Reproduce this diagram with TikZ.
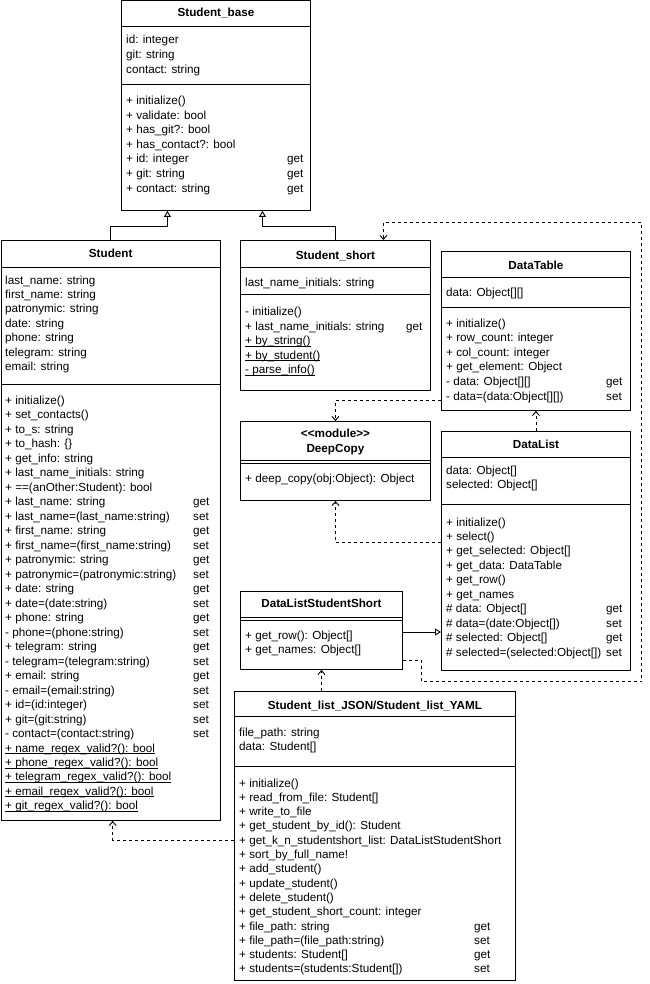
\documentclass[tikz,border=0pt]{standalone}
\usepackage{fontspec}
\setmainfont{Liberation Sans}
\usetikzlibrary{arrows.meta,calc}
\tikzset{
 box/.style={draw, line width=0.9pt, anchor=north west, inner sep=0pt, fill=white},
 txt/.style={anchor=base west, inner sep=0pt, font=\fontsize{11.7}{13}\selectfont},
 ttl/.style={anchor=base, inner sep=0pt, font=\fontsize{11.7}{13}\selectfont\bfseries},
 sep/.style={line width=0.9pt},
 inh/.style={line width=0.9pt, -{Triangle[open, length=6pt, width=7pt]}},
 dep/.style={line width=0.9pt, dash pattern=on 3pt off 3pt, -{Straight Barb[length=4pt,width=7pt]}},
}
\newcommand\umltext[5]{%
 \foreach \t [count=\i from 0] in {#5} {\node[txt] (#1\i) at (#2, #3+#4*\i) {\t};}}
\newcommand\ul[1]{\setbox0\hbox{#1}\rlap{\rule[-1.7pt]{\wd0}{0.7pt}}\box0}
\begin{document}
\begin{tikzpicture}[x=1pt, y=-1pt]
\useasboundingbox (0,0) rectangle (649,984);

% ---------- Student_base
\node[box, minimum width=189pt, minimum height=209.5pt] (sb) at (121,0.5) {};
\node[ttl] (sbt) at (sb.north |- 0,17) {Student\_base};
\draw[sep] (sb.west |- 0,26) -- (sb.east |- 0,26);
\draw[sep] (sb.west |- 0,84) -- (sb.east |- 0,84);
\umltext{sba}{126}{44}{14.6}{id: integer,git: string,contact: string}
\umltext{sbm}{126}{104.5}{14.6}{+ initialize(),+ validate: bool,+ has\_git?: bool,+ has\_contact?: bool,+ id: integer,+ git: string,+ contact: string}
\umltext{sbg}{287}{162.9}{14.6}{get,get,get}

% ---------- Student
\node[box, minimum width=219.5pt, minimum height=580pt] (st) at (0.5,240) {};
\node[ttl] (stt) at (st.north |- 0,258) {Student};
\draw[sep] (st.west |- 0,267) -- (st.east |- 0,267);
\draw[sep] (st.west |- 0,384) -- (st.east |- 0,384);
\umltext{sta}{5}{284}{14.4}{last\_name: string,first\_name: string,patronymic: string,date: string,phone: string,telegram: string,email: string}
\umltext{stm}{5}{404.5}{14.48}{+ initialize(),+ set\_contacts(),+ to\_s: string,+ to\_hash: \{\},+ get\_info: string,+ last\_name\_initials: string,+ ==(anOther:Student): bool,+ last\_name: string,+ last\_name=(last\_name:string),+ first\_name: string,+ first\_name=(first\_name:string),+ patronymic: string,+ patronymic=(patronymic:string),+ date: string,+ date=(date:string),+ phone: string,- phone=(phone:string),+ telegram: string,- telegram=(telegram:string),+ email: string,- email=(email:string),+ id=(id:integer),+ git=(git:string),- contact=(contact:string),\ul{+ name\_regex\_valid?(): bool},\ul{+ phone\_regex\_valid?(): bool},\ul{+ telegram\_regex\_valid?(): bool},\ul{+ email\_regex\_valid?(): bool},\ul{+ git\_regex\_valid?(): bool}}
\umltext{stg}{193}{505.86}{14.48}{get,set,get,set,get,set,get,set,get,set,get,set,get,set,set,set,set}

% ---------- Student_short
\node[box, minimum width=190pt, minimum height=150pt] (ss) at (240,240) {};
\node[ttl] (sst) at (ss.north |- 0,259) {Student\_short};
\draw[sep] (ss.west |- 0,267) -- (ss.east |- 0,267);
\draw[sep] (ss.west |- 0,294) -- (ss.east |- 0,294);
\umltext{ssa}{245}{286}{14.5}{last\_name\_initials: string}
\umltext{ssm}{245}{315.5}{14.5}{- initialize(),+ last\_name\_initials: string,\ul{+ by\_string()},\ul{+ by\_student()},\ul{- parse\_info()}}
\umltext{ssg}{406}{330}{14.5}{get}

% ---------- DataTable
\node[box, minimum width=189pt, minimum height=159pt] (dt) at (441,251) {};
\node[ttl] (dtt) at (dt.north |- 0,269) {DataTable};
\draw[sep] (dt.west |- 0,277) -- (dt.east |- 0,277);
\draw[sep] (dt.west |- 0,307) -- (dt.east |- 0,307);
\umltext{dta}{446}{296}{14.6}{data: Object[][]}
\umltext{dtm}{446}{327}{14.6}{+ initialize(),+ row\_count: integer,+ col\_count: integer,+ get\_element: Object,- data: Object[][],- data=(data:Object[][])}
\umltext{dtg}{606}{385.4}{14.6}{get,set}

% ---------- DataList
\node[box, minimum width=189pt, minimum height=239pt] (dl) at (441,431) {};
\node[ttl] (dlt) at (dl.north |- 0,448) {DataList};
\draw[sep] (dl.west |- 0,457) -- (dl.east |- 0,457);
\draw[sep] (dl.west |- 0,504) -- (dl.east |- 0,504);
\umltext{dla}{446}{474}{14.6}{data: Object[],selected: Object[]}
\umltext{dlm}{446}{526}{14.45}{+ initialize(),+ select(),+ get\_selected: Object[],+ get\_data: DataTable,+ get\_row(),+ get\_names,\# data: Object[],\# data=(date:Object[]),\# selected: Object[],\# selected=(selected:Object[])}
\umltext{dlg}{606}{612.7}{14.45}{get,set,get,set}

% ---------- DeepCopy
\node[box, minimum width=190pt, minimum height=79pt] (dc) at (240,421) {};
\node[ttl] (dct1) at (dc.north |- 0,437) {<\kern0pt<module>\kern0pt>};
\node[ttl] (dct2) at (dc.north |- 0,452) {DeepCopy};
\draw[sep] (dc.west |- 0,460) -- (dc.east |- 0,460);
\draw[sep] (dc.west |- 0,463) -- (dc.east |- 0,463);
\umltext{dcm}{245}{482}{14.5}{+ deep\_copy(obj:Object): Object}

% ---------- DataListStudentShort
\node[box, minimum width=162pt, minimum height=78pt] (dls) at (240,591) {};
\node[ttl] (dlst) at (dls.north |- 0,607) {DataListStudentShort};
\draw[sep] (dls.west |- 0,617) -- (dls.east |- 0,617);
\draw[sep] (dls.west |- 0,620) -- (dls.east |- 0,620);
\umltext{dlsm}{245}{639}{14.5}{+ get\_row(): Object[],+ get\_names: Object[]}

% ---------- Student_list_JSON/Student_list_YAML
\node[box, minimum width=281pt, minimum height=289pt] (sl) at (234,691) {};
\node[ttl] (slt) at (sl.north |- 0,709) {Student\_list\_JSON/Student\_list\_YAML};
\draw[sep] (sl.west |- 0,716) -- (sl.east |- 0,716);
\draw[sep] (sl.west |- 0,766) -- (sl.east |- 0,766);
\umltext{sla}{239}{736}{14.5}{file\_path: string,data: Student[]}
\umltext{slm}{239}{787}{14.3}{+ initialize(),+ read\_from\_file: Student[],+ write\_to\_file,+ get\_student\_by\_id(): Student,+ get\_k\_n\_studentshort\_list: DataListStudentShort,+ sort\_by\_full\_name!,+ add\_student(),+ update\_student(),+ delete\_student(),+ get\_student\_short\_count: integer,+ file\_path: string,+ file\_path=(file\_path:string),+ students: Student[],+ students=(students:Student[])}
\umltext{slg}{474}{930}{14.3}{get,set,get,set}

% ---------- connectors
\draw[inh] (st.north) -- ++(0,-14) -| ([xshift=-48.5pt]sb.south);
\draw[inh] (ss.north) -- ++(0,-14) -| ([xshift=46.5pt]sb.south);
\draw[dep] ([yshift=10pt]dt.south west) -| (dc.north);
\draw[dep] ([yshift=-111pt]dl.north west) -| (dc.south);
\draw[dep] (dl.north) -- (dt.south);
\coordinate (pinh) at ([yshift=-41pt]dls.north east);
\draw[inh] (pinh) -- (pinh -| dl.west);
\draw[dep] ([yshift=9pt]dls.south east) -| ++(19,21) -- ++(220,0) -- ++(0,-459) -| ([xshift=48pt]ss.north);
\draw[dep] (sl.north -| dls.south) -- (dls.south);
\draw[dep] ([yshift=-149pt]sl.north west) -| ([xshift=2pt]st.south);
\end{tikzpicture}
\end{document}
